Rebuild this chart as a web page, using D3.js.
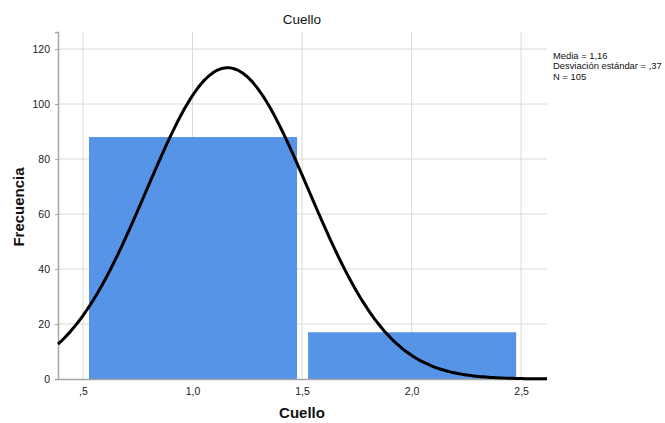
<!DOCTYPE html>
<html>
<head>
<meta charset="utf-8">
<script src="https://cdn.jsdelivr.net/npm/d3@7"></script>
<style>
  body { margin: 0; background: #fff; }
  text { font-family: Arial, "Liberation Sans", sans-serif; }
</style>
</head>
<body>
<div id="chart"></div>
<script>
// Histogram data
var binStart = [0.5, 1.5];
var binEnd = [1.5, 2.5];
var counts = [88, 17];

// Summary statistics (normal curve)
var mean = 1.16;
var sd = 0.37;
var n = 105;
var statLines = ["Media = 1,16", "Desviación estándar = ,37", "N = 105"];

// Ticks
var xTicks = [0.5, 1.0, 1.5, 2.0, 2.5];
var xTickLabels = [",5", "1,0", "1,5", "2,0", "2,5"];
var yTicks = [0, 20, 40, 60, 80, 100, 120];

// Define svg dimension
var svgWidth = 665;
var svgHeight = 423;

var marginLeft = 58;
var marginTop = 32;
var marginRight = 118;
var marginBottom = 44;

var chartWidth = svgWidth - marginLeft - marginRight;
var chartHeight = svgHeight - marginTop - marginBottom;

var svg = d3.select("#chart")
  .append("svg")
  .attr("width", svgWidth)
  .attr("height", svgHeight);

var chartGroup = svg.append("g")
  .attr("transform", `translate(${marginLeft}, ${marginTop})`);

// Scales
var xScale = d3.scaleLinear()
  .domain([0.386, 2.618])
  .range([0, chartWidth]);

var yScale = d3.scaleLinear()
  .domain([0, 126.2])
  .range([chartHeight, 0]);

// Gridlines
chartGroup.selectAll(".hgrid")
  .data(yTicks.filter(d => d > 0))
  .enter()
  .append("line")
  .attr("x1", 0)
  .attr("x2", chartWidth)
  .attr("y1", d => yScale(d))
  .attr("y2", d => yScale(d))
  .attr("stroke", "#d9d9d9")
  .attr("stroke-width", 1);

chartGroup.selectAll(".vgrid")
  .data(xTicks)
  .enter()
  .append("line")
  .attr("x1", d => xScale(d))
  .attr("x2", d => xScale(d))
  .attr("y1", 0)
  .attr("y2", chartHeight)
  .attr("stroke", "#d9d9d9")
  .attr("stroke-width", 1);

// Bars
var bins = counts.map((c, i) => ({ x0: binStart[i], x1: binEnd[i], count: c }));

chartGroup.selectAll("rect")
  .data(bins)
  .enter()
  .append("rect")
  .attr("x", d => xScale(d.x0) + 6)
  .attr("width", d => xScale(d.x1) - xScale(d.x0) - 11)
  .attr("y", d => yScale(d.count))
  .attr("height", d => chartHeight - yScale(d.count))
  .attr("fill", "#5594e6");

// Normal curve from mean / sd / N
var binWidth = binEnd[0] - binStart[0];
function density(x) {
  return n * binWidth / (sd * Math.sqrt(2 * Math.PI)) *
    Math.exp(-0.5 * Math.pow((x - mean) / sd, 2));
}
var curveX = d3.range(0, 201).map(i => xScale.domain()[0] + i * (xScale.domain()[1] - xScale.domain()[0]) / 200);

// Axes
var axisY = d3.axisLeft(yScale).tickValues(yTicks).tickSize(3).tickFormat(d3.format("d"));
var axisX = d3.axisBottom(xScale).tickValues(xTicks).tickSize(0)
  .tickFormat((d, i) => xTickLabels[i]);

var gy = chartGroup.append("g").call(axisY);
var gx = chartGroup.append("g")
  .attr("transform", `translate(0,${chartHeight})`)
  .call(axisX);

[gx, gy].forEach(function(g) {
  g.select(".domain").attr("stroke", "#a6a6a6").attr("stroke-width", 1.5);
  g.selectAll(".tick line").attr("stroke", "#a6a6a6");
  g.selectAll(".tick text")
    .attr("fill", "#222")
    .style("font-size", "10.5px")
    .style("font-family", "Arial, 'Liberation Sans', sans-serif");
});
gy.selectAll(".tick text").attr("x", -8);
gx.selectAll(".tick text").attr("y", 9);

chartGroup.append("path")
  .datum(curveX)
  .attr("fill", "none")
  .attr("stroke", "#000")
  .attr("stroke-width", 3)
  .attr("d", d3.line().x(d => xScale(d)).y(d => yScale(density(d))).curve(d3.curveBasis));

// Titles
svg.append("text")
  .attr("x", 302)
  .attr("y", 24)
  .attr("text-anchor", "middle")
  .style("font-size", "13.5px")
  .attr("fill", "#111")
  .text("Cuello");

svg.append("text")
  .attr("x", 302)
  .attr("y", 418)
  .attr("text-anchor", "middle")
  .style("font-size", "15px")
  .style("font-weight", "bold")
  .attr("fill", "#111")
  .text("Cuello");

svg.append("g")
  .attr("transform", "translate(24, 207)")
  .append("text")
  .attr("text-anchor", "middle")
  .attr("transform", "rotate(-90)")
  .style("font-size", "15px")
  .style("font-weight", "bold")
  .attr("fill", "#111")
  .text("Frecuencia");

// Statistics box
svg.selectAll(".stat")
  .data(statLines)
  .enter()
  .append("text")
  .attr("x", 553)
  .attr("y", (d, i) => 59 + i * 10.3)
  .style("font-size", "9.4px")
  .attr("fill", "#111")
  .text(d => d);
</script>
</body>
</html>
